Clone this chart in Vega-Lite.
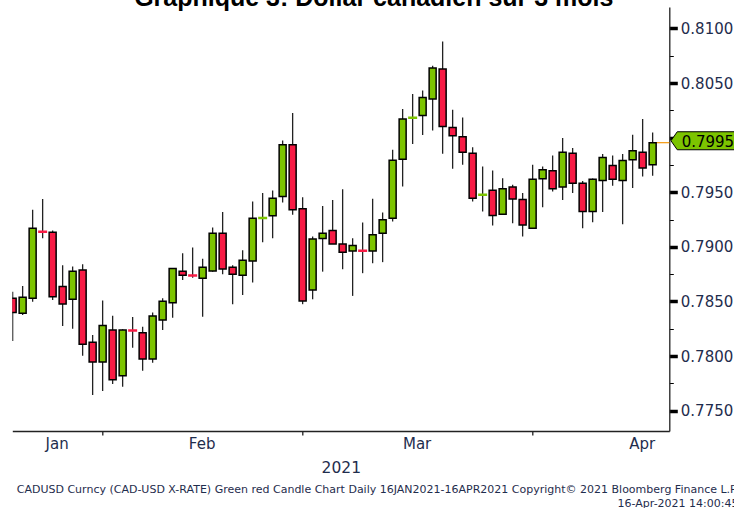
{
  "$schema": "https://vega.github.io/schema/vega-lite/v6.json",
  "width": 657,
  "height": 424,
  "autosize": {"type": "none"},
  "padding": {"left": 12.3, "top": 7, "right": 64.7, "bottom": 77},
  "background": "white",
  "config": {"view": {"stroke": null}},
  "title": {
    "text": "Graphique 3: Dollar canadien sur 3 mois",
    "font": "Liberation Sans",
    "fontSize": 25,
    "fontWeight": "bold",
    "color": "black",
    "anchor": "middle",
    "frame": "group",
    "dx": 33,
    "dy": 20,
    "offset": -4,
    "baseline": "alphabetic"
  },
  "data": {
    "values": [
      {"date": "2021-01-18", "open": 0.78530, "high": 0.78590, "low": 0.78139, "close": 0.78398},
      {"date": "2021-01-19", "open": 0.78392, "high": 0.78642, "low": 0.78377, "close": 0.78539},
      {"date": "2021-01-20", "open": 0.78530, "high": 0.79339, "low": 0.78498, "close": 0.79171},
      {"date": "2021-01-21", "open": 0.79142, "high": 0.79437, "low": 0.79079, "close": 0.79138},
      {"date": "2021-01-22", "open": 0.79134, "high": 0.79149, "low": 0.78514, "close": 0.78544},
      {"date": "2021-01-25", "open": 0.78636, "high": 0.78832, "low": 0.78276, "close": 0.78477},
      {"date": "2021-01-26", "open": 0.78520, "high": 0.78819, "low": 0.78251, "close": 0.78777},
      {"date": "2021-01-27", "open": 0.78789, "high": 0.78841, "low": 0.78004, "close": 0.78108},
      {"date": "2021-01-28", "open": 0.78126, "high": 0.78193, "low": 0.77644, "close": 0.77946},
      {"date": "2021-01-29", "open": 0.77946, "high": 0.78508, "low": 0.77680, "close": 0.78279},
      {"date": "2021-02-01", "open": 0.78239, "high": 0.78370, "low": 0.77744, "close": 0.77784},
      {"date": "2021-02-02", "open": 0.77820, "high": 0.78245, "low": 0.77720, "close": 0.78239},
      {"date": "2021-02-03", "open": 0.78238, "high": 0.78358, "low": 0.78077, "close": 0.78234},
      {"date": "2021-02-04", "open": 0.78214, "high": 0.78269, "low": 0.77866, "close": 0.77973},
      {"date": "2021-02-05", "open": 0.77973, "high": 0.78398, "low": 0.77940, "close": 0.78367},
      {"date": "2021-02-08", "open": 0.78331, "high": 0.78530, "low": 0.78239, "close": 0.78502},
      {"date": "2021-02-09", "open": 0.78489, "high": 0.78805, "low": 0.78352, "close": 0.78801},
      {"date": "2021-02-10", "open": 0.78777, "high": 0.78942, "low": 0.78697, "close": 0.78740},
      {"date": "2021-02-11", "open": 0.78742, "high": 0.78993, "low": 0.78718, "close": 0.78738},
      {"date": "2021-02-12", "open": 0.78713, "high": 0.78890, "low": 0.78361, "close": 0.78814},
      {"date": "2021-02-15", "open": 0.78780, "high": 0.79177, "low": 0.78773, "close": 0.79125},
      {"date": "2021-02-16", "open": 0.79125, "high": 0.79318, "low": 0.78750, "close": 0.78798},
      {"date": "2021-02-17", "open": 0.78814, "high": 0.78832, "low": 0.78475, "close": 0.78750},
      {"date": "2021-02-18", "open": 0.78740, "high": 0.78969, "low": 0.78560, "close": 0.78878},
      {"date": "2021-02-19", "open": 0.78871, "high": 0.79415, "low": 0.78673, "close": 0.79263},
      {"date": "2021-02-22", "open": 0.79261, "high": 0.79492, "low": 0.79043, "close": 0.79265},
      {"date": "2021-02-23", "open": 0.79284, "high": 0.79516, "low": 0.79079, "close": 0.79446},
      {"date": "2021-02-24", "open": 0.79461, "high": 0.79974, "low": 0.79406, "close": 0.79934},
      {"date": "2021-02-25", "open": 0.79934, "high": 0.80225, "low": 0.79293, "close": 0.79339},
      {"date": "2021-02-26", "open": 0.79348, "high": 0.79455, "low": 0.78475, "close": 0.78505},
      {"date": "2021-03-01", "open": 0.78606, "high": 0.79094, "low": 0.78520, "close": 0.79073},
      {"date": "2021-03-02", "open": 0.79076, "high": 0.79375, "low": 0.78773, "close": 0.79125},
      {"date": "2021-03-03", "open": 0.79149, "high": 0.79430, "low": 0.79025, "close": 0.79027},
      {"date": "2021-03-04", "open": 0.79027, "high": 0.79528, "low": 0.78795, "close": 0.78951},
      {"date": "2021-03-05", "open": 0.78963, "high": 0.79079, "low": 0.78551, "close": 0.79012},
      {"date": "2021-03-08", "open": 0.78968, "high": 0.79222, "low": 0.78759, "close": 0.78964},
      {"date": "2021-03-09", "open": 0.78963, "high": 0.79440, "low": 0.78850, "close": 0.79110},
      {"date": "2021-03-10", "open": 0.79125, "high": 0.79314, "low": 0.78860, "close": 0.79247},
      {"date": "2021-03-11", "open": 0.79263, "high": 0.79889, "low": 0.79232, "close": 0.79794},
      {"date": "2021-03-12", "open": 0.79803, "high": 0.80261, "low": 0.79552, "close": 0.80170},
      {"date": "2021-03-15", "open": 0.80177, "high": 0.80399, "low": 0.79941, "close": 0.80181},
      {"date": "2021-03-16", "open": 0.80203, "high": 0.80432, "low": 0.80023, "close": 0.80368},
      {"date": "2021-03-17", "open": 0.80353, "high": 0.80658, "low": 0.80065, "close": 0.80637},
      {"date": "2021-03-18", "open": 0.80628, "high": 0.80881, "low": 0.79852, "close": 0.80102},
      {"date": "2021-03-19", "open": 0.80093, "high": 0.80255, "low": 0.79714, "close": 0.80017},
      {"date": "2021-03-22", "open": 0.80008, "high": 0.80184, "low": 0.79751, "close": 0.79867},
      {"date": "2021-03-23", "open": 0.79858, "high": 0.79913, "low": 0.79415, "close": 0.79446},
      {"date": "2021-03-24", "open": 0.79474, "high": 0.79736, "low": 0.79323, "close": 0.79478},
      {"date": "2021-03-25", "open": 0.79519, "high": 0.79699, "low": 0.79195, "close": 0.79287},
      {"date": "2021-03-26", "open": 0.79299, "high": 0.79629, "low": 0.79295, "close": 0.79531},
      {"date": "2021-03-29", "open": 0.79547, "high": 0.79568, "low": 0.79217, "close": 0.79437},
      {"date": "2021-03-30", "open": 0.79433, "high": 0.79492, "low": 0.79094, "close": 0.79201},
      {"date": "2021-03-31", "open": 0.79171, "high": 0.79751, "low": 0.79168, "close": 0.79620},
      {"date": "2021-04-01", "open": 0.79623, "high": 0.79736, "low": 0.79363, "close": 0.79705},
      {"date": "2021-04-02", "open": 0.79696, "high": 0.79836, "low": 0.79506, "close": 0.79531},
      {"date": "2021-04-05", "open": 0.79547, "high": 0.79996, "low": 0.79430, "close": 0.79867},
      {"date": "2021-04-06", "open": 0.79858, "high": 0.79904, "low": 0.79492, "close": 0.79583},
      {"date": "2021-04-07", "open": 0.79583, "high": 0.79604, "low": 0.79171, "close": 0.79323},
      {"date": "2021-04-08", "open": 0.79323, "high": 0.79625, "low": 0.79226, "close": 0.79620},
      {"date": "2021-04-09", "open": 0.79607, "high": 0.79849, "low": 0.79318, "close": 0.79818},
      {"date": "2021-04-12", "open": 0.79745, "high": 0.79836, "low": 0.79559, "close": 0.79620},
      {"date": "2021-04-13", "open": 0.79607, "high": 0.79849, "low": 0.79208, "close": 0.79790},
      {"date": "2021-04-14", "open": 0.79797, "high": 0.80026, "low": 0.79538, "close": 0.79879},
      {"date": "2021-04-15", "open": 0.79867, "high": 0.80170, "low": 0.79644, "close": 0.79721},
      {"date": "2021-04-16", "open": 0.79751, "high": 0.80047, "low": 0.79650, "close": 0.79954}
    ]
  },
  "layer": [
    {
      "transform": [{"filter": "datum.date == '2021-04-16'"}],
      "mark": {"type": "rule", "color": "#F5A020", "strokeWidth": 1.3},
      "encoding": {
        "x": {"field": "date", "type": "ordinal", "scale": {"type": "point", "padding": 0.85, "align": 0.02}, "axis": null},
        "x2": {"value": "width"},
        "y": {"field": "close", "type": "quantitative", "scale": {"domain": [0.77314, 0.81196], "nice": false, "zero": false}, "axis": null}
      }
    },
    {
      "mark": {"type": "rule", "color": "#222222", "strokeWidth": 1.3, "clip": true},
      "encoding": {
        "x": {
          "field": "date", "type": "ordinal",
          "scale": {"type": "point", "padding": 0.85, "align": 0.02},
          "axis": {
            "orient": "bottom",
            "values": ["2021-01-29", "2021-02-26", "2021-03-31"],
            "labels": false,
            "ticks": true,
            "tickSize": 4,
            "tickColor": "#222222",
            "tickWidth": 1.3,
            "domainColor": "#222222",
            "domainWidth": 1.3,
            "grid": false,
            "title": "2021",
            "titleFont": "DejaVu Sans",
            "titleFontSize": 15.5,
            "titleFontWeight": "normal",
            "titleColor": "#1f2d4d",
            "titleBaseline": "alphabetic",
            "titleY": 41
          }
        },
        "y": {
          "field": "low", "type": "quantitative",
          "scale": {"domain": [0.77314, 0.81196], "nice": false, "zero": false},
          "axis": {
            "orient": "right",
            "title": null,
            "grid": false,
            "values": [0.775, 0.7775, 0.78, 0.7825, 0.785, 0.7875, 0.79, 0.7925, 0.795, 0.7975, 0.8, 0.8025, 0.805, 0.8075, 0.81],
            "domainColor": "#222222",
            "domainWidth": 1.3,
            "tickColor": "black",
            "tickSize": {"condition": {"test": "abs(datum.value*200 - round(datum.value*200)) < 0.01", "value": 8}, "value": 4},
            "tickWidth": {"condition": {"test": "abs(datum.value*200 - round(datum.value*200)) < 0.01", "value": 3.5}, "value": 1},
            "labelExpr": "abs(datum.value*200 - round(datum.value*200)) < 0.01 && abs(datum.value - 0.8) > 0.0001 ? format(datum.value, '.4f') : ''",
            "labelFont": "DejaVu Sans",
            "labelFontSize": 15,
            "labelColor": "#1f2d4d",
            "labelPadding": 3,
            "labelOverlap": false,
            "labelFlush": false
          }
        },
        "y2": {"field": "high"}
      }
    },
    {
      "transform": [{"filter": "abs(datum.close - datum.open) > 0.0001"}],
      "mark": {"type": "bar", "width": 7, "stroke": "black", "strokeWidth": 1.5, "clip": true},
      "encoding": {
        "x": {
          "field": "date", "type": "ordinal",
          "scale": {"type": "point", "padding": 0.85, "align": 0.02},
          "axis": {
            "orient": "bottom",
            "values": ["2021-01-22", "2021-02-12", "2021-03-15", "2021-04-15"],
            "domain": false,
            "ticks": false,
            "grid": false,
            "labelExpr": "timeFormat(toDate(datum.value), '%b')",
            "labelOffset": {"condition": {"test": "datum.value == '2021-01-22' || datum.value == '2021-03-15'", "value": 4}, "value": -1},
            "labelFont": "DejaVu Sans",
            "labelFontSize": 15,
            "labelColor": "#1f2d4d",
            "labelPadding": 5,
            "labelOverlap": false,
            "labelAngle": 0,
            "title": ["CADUSD Curncy (CAD-USD X-RATE) Green red Candle Chart  Daily 16JAN2021-16APR2021  Copyright© 2021 Bloomberg Finance L.P.", "16-Apr-2021 14:00:45"],
            "titleFont": "DejaVu Sans",
            "titleFontSize": 11,
            "titleFontWeight": "normal",
            "titleColor": "#1f2d4d",
            "titleAlign": "right",
            "titleBaseline": "alphabetic",
            "titleLineHeight": 14,
            "titleX": 725.7,
            "titleY": 61
          }
        },
        "y": {"field": "open", "type": "quantitative", "scale": {"domain": [0.77314, 0.81196], "nice": false, "zero": false}, "axis": null},
        "y2": {"field": "close"},
        "color": {"condition": {"test": "datum.close > datum.open", "value": "#7CC400"}, "value": "#F81B45"}
      }
    },
    {
      "transform": [{"filter": "abs(datum.close - datum.open) <= 0.0001"}],
      "mark": {"type": "tick", "size": 9, "thickness": 2.5, "clip": true, "opacity": 1},
      "encoding": {
        "x": {"field": "date", "type": "ordinal", "scale": {"type": "point", "padding": 0.85, "align": 0.02}, "axis": null},
        "y": {"field": "close", "type": "quantitative", "scale": {"domain": [0.77314, 0.81196], "nice": false, "zero": false}, "axis": null},
        "color": {"condition": {"test": "datum.close > datum.open", "value": "#7CC400"}, "value": "#F81B45"}
      }
    },
    {
      "transform": [{"filter": "datum.date == '2021-04-16'"}],
      "mark": {"type": "point", "shape": "M 1.83 -0.19 L 2.46 -1.09 L 9.3 -1.09 L 9.3 0.71 L 2.46 0.71 Z", "size": 400, "filled": true, "fill": "#7CC400", "stroke": "black", "strokeWidth": 1, "opacity": 1, "clip": false},
      "encoding": {
        "x": {"field": "date", "type": "ordinal", "scale": {"type": "point", "padding": 0.85, "align": 0.02}, "axis": null},
        "y": {"field": "close", "type": "quantitative", "scale": {"domain": [0.77314, 0.81196], "nice": false, "zero": false}, "axis": null}
      }
    },
    {
      "transform": [{"filter": "datum.date == '2021-04-16'"}],
      "mark": {"type": "text", "align": "left", "baseline": "middle", "dx": 29, "dy": -1, "font": "DejaVu Sans", "fontSize": 15, "color": "black", "clip": false},
      "encoding": {
        "x": {"field": "date", "type": "ordinal", "scale": {"type": "point", "padding": 0.85, "align": 0.02}, "axis": null},
        "y": {"field": "close", "type": "quantitative", "scale": {"domain": [0.77314, 0.81196], "nice": false, "zero": false}, "axis": null},
        "text": {"field": "close", "type": "quantitative", "format": ".4f"}
      }
    }
  ],
  "resolve": {"axis": {"x": "independent", "y": "independent"}}
}
